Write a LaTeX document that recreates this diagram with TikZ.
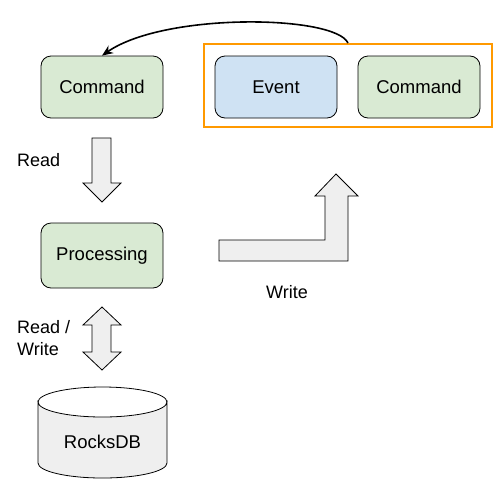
\documentclass[tikz,border=0pt]{standalone}
\usepackage{fontspec}
\setmainfont{Liberation Sans}
\usetikzlibrary{arrows.meta}
\definecolor{boxgreen}{HTML}{D9EAD3}
\definecolor{boxblue}{HTML}{CFE2F3}
\definecolor{grporange}{HTML}{FF9900}
\definecolor{shapegray}{HTML}{EFEFEF}
\begin{document}
\begin{tikzpicture}[x=1pt,y=-1pt,
  box/.style={draw=black,line width=0.8pt,rounded corners=10pt,minimum width=122pt,minimum height=62pt,font=\fontsize{18.5}{22}\selectfont,inner sep=0pt},
  gbox/.style={box,fill=boxgreen},
  bbox/.style={box,fill=boxblue},
  bigarrow/.style={draw=black,line width=0.8pt,fill=shapegray,line join=miter},
  lbl/.style={font=\fontsize{18}{22}\selectfont,inner sep=0pt,align=left}]
\useasboundingbox (0,0) rectangle (502,493);
\node[draw=grporange,line width=2pt,minimum width=288pt,minimum height=83pt,inner sep=0pt] (grp) at (348,85.5) {};
\node[gbox] (cmd1) at (102,87) {Command};
\node[bbox] (evt) at (276,87) {Event};
\node[gbox] (cmd2) at (419,87) {Command};
\node[gbox,minimum height=65pt] (proc) at (102,255.5) {Processing};
% down arrow
\draw[bigarrow] (92,138) -- (111,138) -- (111,183) -- (121,183) -- (102,202) -- (83,183) -- (92,183) -- cycle;
% bent write arrow
\draw[bigarrow] (219,240) -- (325,240) -- (325,196) -- (315,196) -- (336,174) -- (358,196) -- (348,196) -- (348,261) -- (219,261) -- cycle;
% double arrow
\draw[bigarrow] (102,307) -- (121,325) -- (111,325) -- (111,352) -- (121,352) -- (102,370) -- (83,352) -- (92,352) -- (92,325) -- (83,325) -- cycle;
% cylinder
\draw[bigarrow] (38,402) -- (38,463) arc[start angle=180,end angle=360,x radius=64.5pt,y radius=15pt] -- (167,402) arc[start angle=0,end angle=-180,x radius=64.5pt,y radius=15pt] -- cycle;
\draw[line width=0.8pt] (38,402) arc[start angle=180,end angle=0,x radius=64.5pt,y radius=15pt];
\node[font=\fontsize{18.5}{22}\selectfont,inner sep=0pt] (db) at (102.5,442) {RocksDB};
% labels
\node[lbl,anchor=west] (rd) at (17,160) {Read};
\node[lbl,anchor=west] (wr) at (266,292) {Write};
\node[lbl,anchor=west] (rw) at (17,338) {Read /\\Write};
% curved arrow
\draw[line width=1.6pt,-{Stealth[length=11pt,width=9pt]}] (grp.north) .. controls (335,15) and (165,12) .. (cmd1.north);
\end{tikzpicture}
\end{document}
